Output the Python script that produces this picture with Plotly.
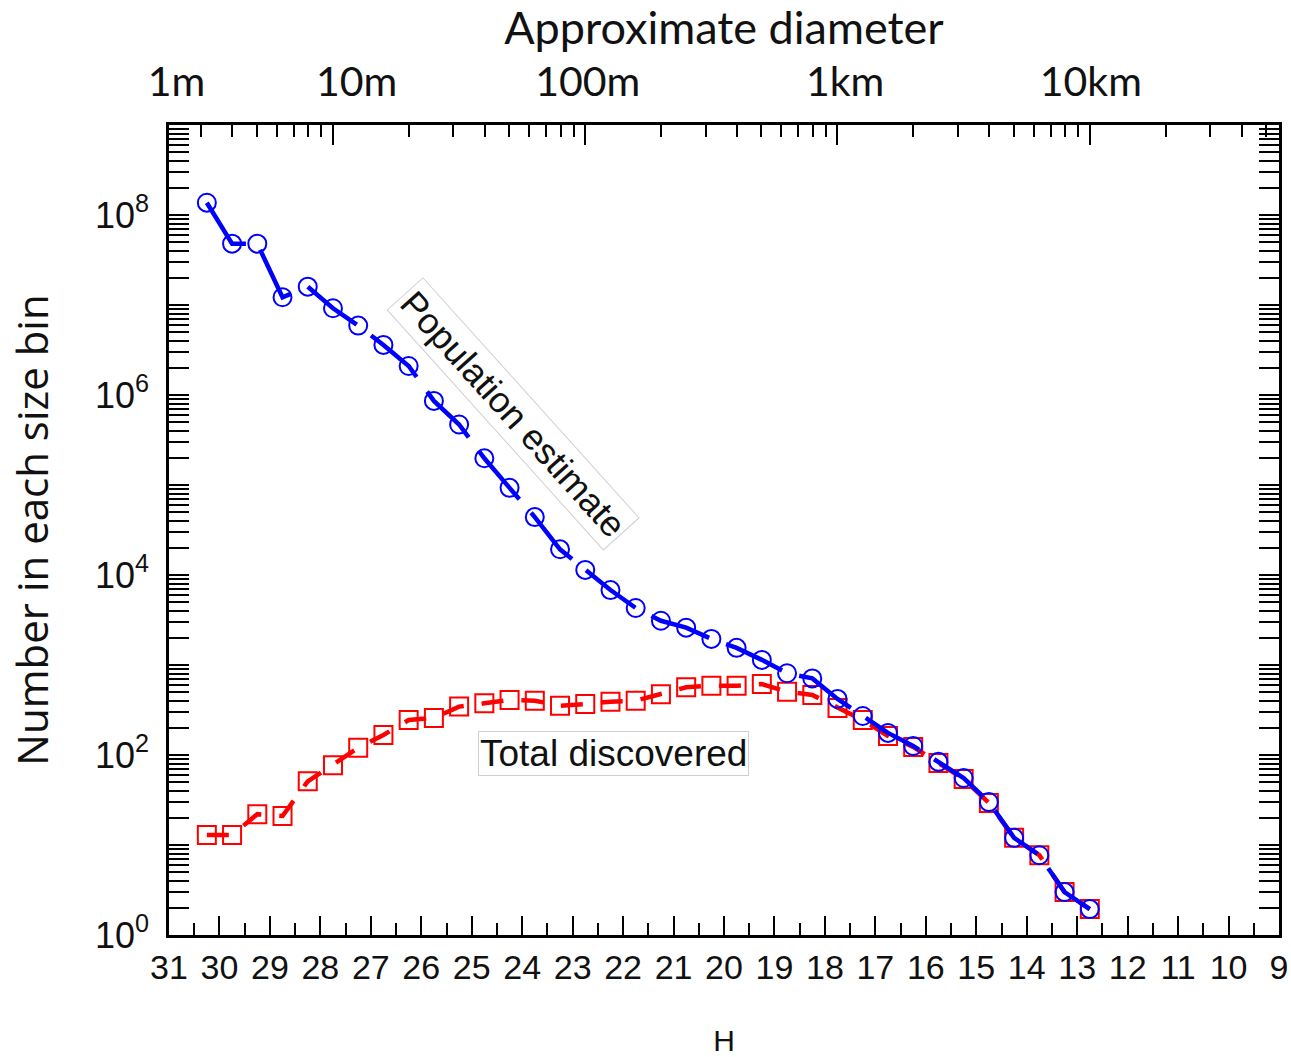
import math
import plotly.graph_objects as go

# ---------------- data ----------------
H_bins = [30.25, 29.75, 29.25, 28.75, 28.25, 27.75, 27.25, 26.75, 26.25, 25.75,
          25.25, 24.75, 24.25, 23.75, 23.25, 22.75, 22.25, 21.75, 21.25, 20.75,
          20.25, 19.75, 19.25, 18.75, 18.25, 17.75, 17.25, 16.75, 16.25, 15.75,
          15.25, 14.75, 14.25, 13.75, 13.25, 12.75]

population = [1.37e8, 4.8e7, 4.8e7, 1.22e7, 1.6e7, 9.2e6, 5.9e6, 3.6e6, 2.1e6, 8.6e5,
              4.7e5, 1.98e5, 9.3e4, 4.4e4, 1.93e4, 1.14e4, 6.8e3, 4.3e3, 3.1e3, 2.6e3,
              1.95e3, 1.55e3, 1.14e3, 810, 710, 420, 271, 176, 126, 84,
              55.5, 30, 12, 7.7, 3.0, 1.94]

discovered = [12.9, 12.9, 22, 21, 51, 77, 120, 167, 245, 258,
              345, 375, 408, 401, 353, 369, 391, 401, 472, 565,
              589, 589, 615, 505, 465, 333, 245, 163, 123, 81.5,
              54, 29.3, 12, 7.7, 3.0, 1.94]

H_ticks = [31, 30, 29, 28, 27, 26, 25, 24, 23, 22, 21, 20, 19, 18, 17, 16, 15, 14, 13, 12, 11, 10, 9]
H_minor = [30.5, 29.5, 28.5, 27.5, 26.5, 25.5, 24.5, 23.5, 22.5, 21.5, 20.5, 19.5,
           18.5, 17.5, 16.5, 15.5, 14.5, 13.5, 12.5, 11.5, 10.5, 9.5]

y_major = [1, 1e2, 1e4, 1e6, 1e8]
y_major_text = ["10<sup>0</sup>", "10<sup>2</sup>", "10<sup>4</sup>", "10<sup>6</sup>", "10<sup>8</sup>"]

# top axis: approximate diameter (km), albedo 0.14
albedo = 0.14
diam_major = [0.01, 0.1, 1, 10]
diam_minor = [0.003, 0.004, 0.005, 0.006, 0.007, 0.008, 0.009,
              0.02, 0.03, 0.04, 0.05, 0.06, 0.07, 0.08, 0.09,
              0.2, 0.3, 0.4, 0.5, 0.6, 0.7, 0.8, 0.9,
              2, 3, 4, 5, 6, 7, 8, 9, 20, 30, 40, 50]
top_labels = ["1m", "10m", "100m", "1km", "10km"]
top_label_H = [30.85, 27.28, 22.70, 17.60, 12.73]


def diam_to_H(d_km):
    return 5 * math.log10(1329.0 / (d_km * math.sqrt(albedo)))


y_minor = [k * 10 ** n for n in range(0, 9) for k in range(1, 10)
           if not (k == 1 and n % 2 == 0)]

# ---------------- figure ----------------
fig = go.Figure()

fig.add_trace(go.Scatter(
    x=H_bins, y=discovered, mode="lines+markers",
    line=dict(color="#ff0000", width=4.5, dash="22px,18px"),
    marker=dict(symbol="square-open", size=18, color="#ff0000", line=dict(width=2)),
    showlegend=False, xaxis="x", yaxis="y", hoverinfo="skip"))

fig.add_trace(go.Scatter(
    x=H_bins, y=population, mode="lines+markers",
    line=dict(color="#0000ff", width=4.5, dash="62px,18px"),
    marker=dict(symbol="circle-open", size=18, color="#0000ff", line=dict(width=2)),
    showlegend=False, xaxis="x", yaxis="y", hoverinfo="skip"))

# invisible traces so that the top (diameter) axes are drawn
for ax in ("x2", "x3"):
    fig.add_trace(go.Scatter(x=[20], y=[10], mode="markers", marker=dict(opacity=0),
                             showlegend=False, hoverinfo="skip", xaxis=ax, yaxis="y"))

tickfont = dict(family="Liberation Sans, Arial, sans-serif", size=34, color="#111111")

fig.update_layout(
    width=1291, height=1057,
    margin=dict(l=169, r=12, t=125, b=122),
    paper_bgcolor="white", plot_bgcolor="white",
    xaxis=dict(
        range=[31, 9], showgrid=False, zeroline=False, automargin=False,
        showline=True, linecolor="black", linewidth=2.5, mirror=True,
        tickmode="array", tickvals=H_ticks, ticktext=[str(t) for t in H_ticks],
        ticks="inside", ticklen=19, tickwidth=2, tickcolor="black",
        minor=dict(tickmode="array", tickvals=H_minor, ticks="inside", ticklen=12,
                   tickwidth=2, tickcolor="black"),
        tickfont=tickfont, ticklabelstandoff=0,
        title=dict(text="H", font=dict(family="Liberation Sans, Arial, sans-serif", size=30, color="#111111"),
                   standoff=56),
    ),
    xaxis2=dict(
        range=[31, 9], overlaying="x", side="top", anchor="y", automargin=False,
        showgrid=False, zeroline=False, showline=False,
        tickmode="array", tickvals=[diam_to_H(d) for d in diam_major],
        showticklabels=False,
        ticks="inside", ticklen=20, tickwidth=2, tickcolor="black",
        minor=dict(tickmode="array", tickvals=[diam_to_H(d) for d in diam_minor],
                   ticks="inside", ticklen=12, tickwidth=2, tickcolor="black"),
    ),
    xaxis3=dict(
        range=[31, 9], overlaying="x", side="top", anchor="y", automargin=False,
        showgrid=False, zeroline=False, showline=False, ticks="",
        tickmode="array", tickvals=top_label_H, ticktext=top_labels,
        tickfont=dict(family="Lato, sans-serif", size=41, color="#111111"),
        ticklabelstandoff=20,
        title=dict(text="Approximate diameter", font=dict(family="Lato, sans-serif", size=45, color="#111111"),
                   standoff=8),
    ),
    yaxis=dict(
        type="log", range=[0, 9], showgrid=False, zeroline=False, automargin=False,
        showline=True, linecolor="black", linewidth=2.5, mirror="allticks",
        tickmode="array", tickvals=y_major, ticktext=y_major_text,
        ticks="inside", ticklen=20, tickwidth=2, tickcolor="black",
        minor=dict(tickmode="array", tickvals=y_minor, ticks="inside", ticklen=12,
                   tickwidth=2, tickcolor="black"),
        tickfont=dict(family="Liberation Sans, Arial, sans-serif", size=36, color="#111111"),
        ticklabelstandoff=10,
        title=dict(text="Number in each size bin", font=dict(family="Open Sans, sans-serif", size=42, color="#111111"),
                   standoff=34),
    ),
    annotations=[
        dict(x=24.19, y=5.79, xref="x", yref="y", text="Population estimate",
             showarrow=False, textangle=48,
             font=dict(family="Liberation Sans, Arial, sans-serif", size=36, color="#111111"),
             bgcolor="white", bordercolor="#d0d0d0", borderwidth=1, borderpad=3),
        dict(x=22.2, y=2.017, xref="x", yref="y", text="Total discovered",
             showarrow=False,
             font=dict(family="Liberation Sans, Arial, sans-serif", size=37, color="#111111"),
             bgcolor="white", bordercolor="#d0d0d0", borderwidth=1, borderpad=1),
    ],
)

fig.write_html("out.html")
